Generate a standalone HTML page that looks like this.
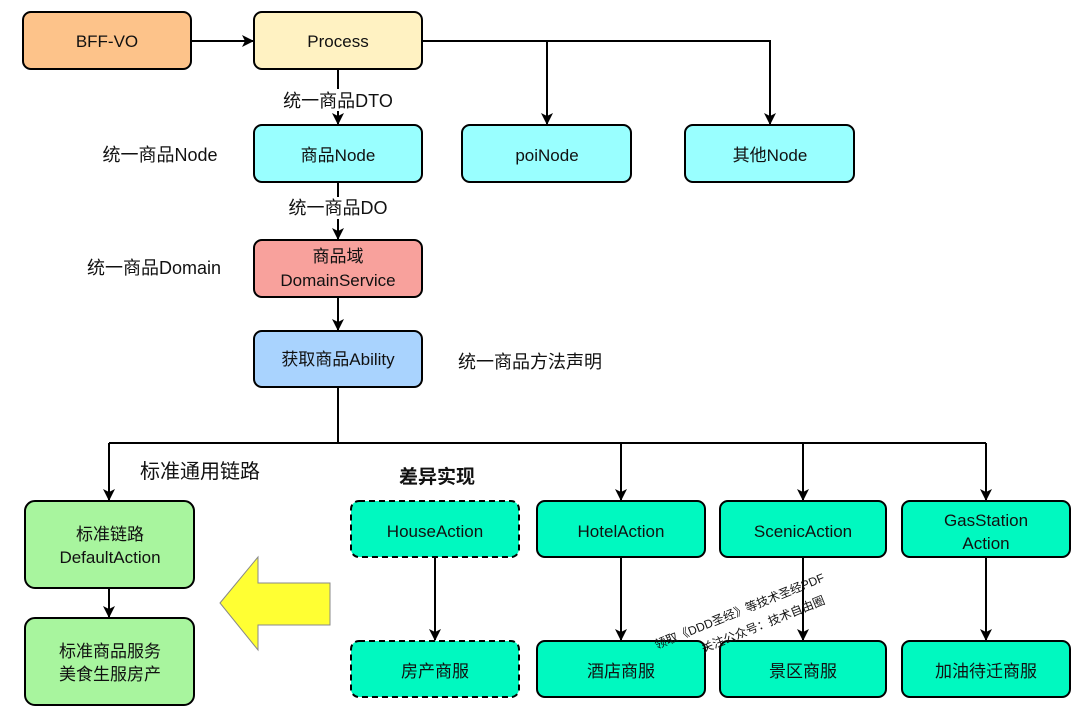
<!DOCTYPE html>
<html><head><meta charset="utf-8"><style>
body{margin:0;background:#fff}
text{font-family:"Liberation Sans","Noto Sans CJK SC",sans-serif;fill:#111}
</style></head><body>
<svg width="1080" height="721" viewBox="0 0 1080 721" xmlns="http://www.w3.org/2000/svg">
<defs><marker id="a" markerWidth="12" markerHeight="12" refX="11" refY="6" orient="auto" markerUnits="userSpaceOnUse"><path d="M0,0 L12,6 L0,12 L3,6 z" fill="#000"/></marker></defs>
<g stroke="#000" stroke-width="2" fill="none">
<line x1="191" y1="41" x2="253" y2="41" marker-end="url(#a)"/>
<polyline points="422,41 770,41 770,124" marker-end="url(#a)"/>
<line x1="547" y1="41" x2="547" y2="124" marker-end="url(#a)"/>
<line x1="338" y1="69" x2="338" y2="89"/>
<line x1="338" y1="111" x2="338" y2="124" marker-end="url(#a)"/>
<line x1="338" y1="182" x2="338" y2="197"/>
<line x1="338" y1="219" x2="338" y2="239" marker-end="url(#a)"/>
<line x1="338" y1="297" x2="338" y2="330" marker-end="url(#a)"/>
<polyline points="338,387 338,443"/>
<line x1="109" y1="443" x2="986" y2="443"/>
<line x1="109" y1="443" x2="109" y2="500" marker-end="url(#a)"/>
<line x1="621" y1="443" x2="621" y2="500" marker-end="url(#a)"/>
<line x1="803" y1="443" x2="803" y2="500" marker-end="url(#a)"/>
<line x1="986" y1="443" x2="986" y2="500" marker-end="url(#a)"/>
<line x1="109" y1="588" x2="109" y2="617" marker-end="url(#a)"/>
<line x1="435" y1="557" x2="435" y2="640" marker-end="url(#a)"/>
<line x1="621" y1="557" x2="621" y2="640" marker-end="url(#a)"/>
<line x1="803" y1="557" x2="803" y2="640" marker-end="url(#a)"/>
<line x1="986" y1="557" x2="986" y2="640" marker-end="url(#a)"/>
</g>
<g stroke="#000" stroke-width="2">
<rect x="23" y="12" width="168" height="57" rx="8" fill="#fdc38a"/>
<rect x="254" y="12" width="168" height="57" rx="8" fill="#fff2c2"/>
<rect x="254" y="125" width="168" height="57" rx="8" fill="#99ffff"/>
<rect x="462" y="125" width="169" height="57" rx="8" fill="#99ffff"/>
<rect x="685" y="125" width="169" height="57" rx="8" fill="#99ffff"/>
<rect x="254" y="240" width="168" height="57" rx="8" fill="#f8a19c"/>
<rect x="254" y="331" width="168" height="56" rx="8" fill="#a9d3fe"/>
<rect x="25" y="501" width="169" height="87" rx="10" fill="#a8f59e"/>
<rect x="25" y="618" width="169" height="87" rx="10" fill="#a8f59e"/>
<rect x="351" y="501" width="168" height="56" rx="8" fill="#00f9c0" stroke-dasharray="6,4"/>
<rect x="537" y="501" width="168" height="56" rx="8" fill="#00f9c0"/>
<rect x="720" y="501" width="166" height="56" rx="8" fill="#00f9c0"/>
<rect x="902" y="501" width="168" height="56" rx="8" fill="#00f9c0"/>
<rect x="351" y="641" width="168" height="56" rx="8" fill="#00f9c0" stroke-dasharray="6,4"/>
<rect x="537" y="641" width="168" height="56" rx="8" fill="#00f9c0"/>
<rect x="720" y="641" width="166" height="56" rx="8" fill="#00f9c0"/>
<rect x="902" y="641" width="168" height="56" rx="8" fill="#00f9c0"/>
</g>
<polygon points="220,603 258,557 258,583 330,583 330,625 258,625 258,650" fill="#ffff33" stroke="#888" stroke-width="1"/>
<g font-size="17" text-anchor="middle">
<text x="107" y="47">BFF-VO</text>
<text x="338" y="47">Process</text>
<text x="338" y="161">商品Node</text>
<text x="547" y="161">poiNode</text>
<text x="770" y="161">其他Node</text>
<text x="338" y="262">商品域</text>
<text x="338" y="286">DomainService</text>
<text x="338" y="365">获取商品Ability</text>
<text x="110" y="540">标准链路</text>
<text x="110" y="563">DefaultAction</text>
<text x="110" y="657">标准商品服务</text>
<text x="110" y="680">美食生服房产</text>
<text x="435" y="537">HouseAction</text>
<text x="621" y="537">HotelAction</text>
<text x="803" y="537">ScenicAction</text>
<text x="986" y="526">GasStation</text>
<text x="986" y="549">Action</text>
<text x="435" y="677">房产商服</text>
<text x="621" y="677">酒店商服</text>
<text x="803" y="677">景区商服</text>
<text x="986" y="677">加油待迁商服</text>
</g>
<g font-size="18" text-anchor="middle">
<rect x="278" y="90" width="120" height="21" fill="#fff"/>
<text x="338" y="107">统一商品DTO</text>
<rect x="283" y="198" width="110" height="21" fill="#fff"/>
<text x="338" y="214">统一商品DO</text>
<text x="160" y="161">统一商品Node</text>
<text x="154" y="274">统一商品Domain</text>
<text x="530" y="368">统一商品方法声明</text>
</g>
<text x="140" y="478" font-size="20">标准通用链路</text>
<text x="399" y="483" font-size="19" font-weight="bold">差异实现</text>
<g font-size="12" fill="#333" transform="rotate(-22 740 610)">
<text x="648" y="615">领取《DDD圣经》等技术圣经PDF</text>
<text x="690" y="636">关注公众号：技术自由圈</text>
</g>
</svg>
</body></html>
